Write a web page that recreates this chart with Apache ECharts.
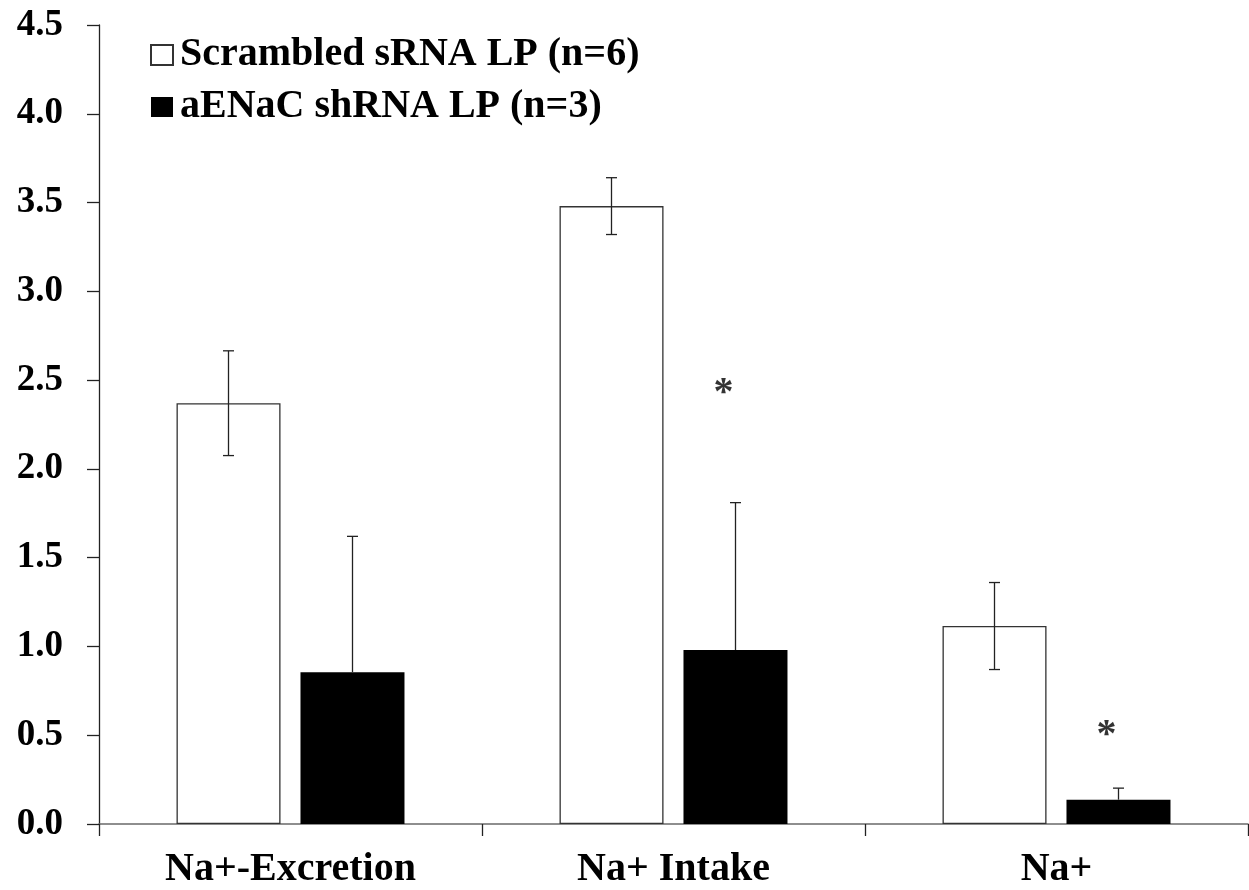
<!DOCTYPE html>
<html>
<head>
<meta charset="utf-8">
<script src="https://cdn.jsdelivr.net/npm/echarts@6/dist/echarts.min.js"></script>
<style>
  html, body { margin: 0; padding: 0; background: #fff; }
  #chart { width: 1249px; height: 890px; }
</style>
</head>
<body>
<div id="chart"></div>
<script>
// Categories and series values
const categories = ['Na+-Excretion', 'Na+ Intake', 'Na+'];
const scrambledMean = [2.37, 3.48, 1.115];
const scrambledErr = [0.295, 0.16, 0.245];
const shrnaMean = [0.855, 0.98, 0.137];
const shrnaErr = [0.765, 0.83, 0.065];
// Significance markers: category index and height in axis units
const sigCats = [1, 2];
const sigLevels = [2.47, 0.54];
const yTicks = { min: 0, max: 4.5, step: 0.5 };

const seriesNames = ['Scrambled sRNA LP (n=6)', 'aENaC shRNA LP (n=3)'];

const FONT = "'Liberation Serif', 'Times New Roman', serif";
const BAR_W = 104;
const BAR_GAP = 20;
const HALF_SHIFT = (BAR_W + BAR_GAP) / 2;

function errorBarItem(means, errs, shift, twoSided) {
  return function (params, api) {
    const i = api.value(0);
    const m = means[i], e = errs[i];
    const top = api.coord([i, m + e]);
    const bot = api.coord([i, twoSided ? m - e : m]);
    const x = top[0] + shift;
    const cap = 5.5;
    const style = { stroke: '#222', lineWidth: 1.3 };
    const children = [
      { type: 'line', shape: { x1: x, y1: top[1], x2: x, y2: bot[1] }, style },
      { type: 'line', shape: { x1: x - cap, y1: top[1], x2: x + cap, y2: top[1] }, style }
    ];
    if (twoSided) {
      children.push({ type: 'line', shape: { x1: x - cap, y1: bot[1], x2: x + cap, y2: bot[1] }, style });
    }
    return { type: 'group', children };
  };
}

const chart = echarts.init(document.getElementById('chart'), null, { renderer: 'canvas' });

chart.setOption({
  backgroundColor: '#ffffff',
  animation: false,
  grid: { left: 99, right: 1, top: 25, bottom: 64, containLabel: false },
  legend: {
    orient: 'vertical',
    left: 145,
    top: 30,
    itemWidth: 22,
    itemHeight: 20,
    itemGap: 12,
    data: [
      { name: seriesNames[0], icon: 'rect' },
      { name: seriesNames[1], icon: 'rect' }
    ],
    textStyle: { fontFamily: FONT, fontWeight: 'bold', fontSize: 40, lineHeight: 40, color: '#000', padding: [0, 0, 0, 2] }
  },
  xAxis: {
    type: 'category',
    data: categories,
    boundaryGap: true,
    axisLine: { lineStyle: { color: '#6a6a6a', width: 1.5 } },
    axisTick: { show: true, length: 12, alignWithLabel: false, lineStyle: { color: '#222', width: 1.3 } },
    axisLabel: { fontFamily: FONT, fontWeight: 'bold', fontSize: 40, color: '#000', margin: 26 },
    splitLine: { show: false }
  },
  yAxis: {
    type: 'value',
    min: yTicks.min,
    max: yTicks.max,
    interval: yTicks.step,
    axisLine: { show: true, lineStyle: { color: '#222', width: 1.3 } },
    axisTick: { show: true, length: 12, lineStyle: { color: '#222', width: 1.3 } },
    axisLabel: {
      fontFamily: FONT, fontWeight: 'bold', fontSize: 37, color: '#000', margin: 36,
      formatter: v => v.toFixed(1)
    },
    splitLine: { show: false }
  },
  series: [
    {
      name: seriesNames[0],
      type: 'bar',
      data: scrambledMean,
      barWidth: BAR_W,
      barGap: (BAR_GAP / BAR_W * 100).toFixed(1) + '%',
      itemStyle: { color: '#ffffff', borderColor: '#333', borderWidth: 1.3 }
    },
    {
      name: seriesNames[1],
      type: 'bar',
      data: shrnaMean,
      barWidth: BAR_W,
      itemStyle: { color: '#000000', borderColor: '#000', borderWidth: 0 }
    },
    {
      type: 'custom',
      name: 'scrambledError',
      data: categories.map((c, i) => [i]),
      renderItem: errorBarItem(scrambledMean, scrambledErr, -HALF_SHIFT, true),
      z: 10,
      silent: true
    },
    {
      type: 'custom',
      name: 'shrnaError',
      data: categories.map((c, i) => [i]),
      renderItem: errorBarItem(shrnaMean, shrnaErr, HALF_SHIFT, false),
      z: 10,
      silent: true
    },
    {
      type: 'scatter',
      name: 'significance',
      symbolSize: 0,
      data: sigCats.map((c, k) => [c, sigLevels[k]]),
      label: {
        show: true,
        formatter: '*',
        position: 'inside',
        offset: [HALF_SHIFT - 12, 8],
        fontFamily: FONT,
        fontWeight: 'bold',
        fontSize: 40,
        color: '#000'
      },
      silent: true,
      z: 10
    }
  ]
});
</script>
</body>
</html>
